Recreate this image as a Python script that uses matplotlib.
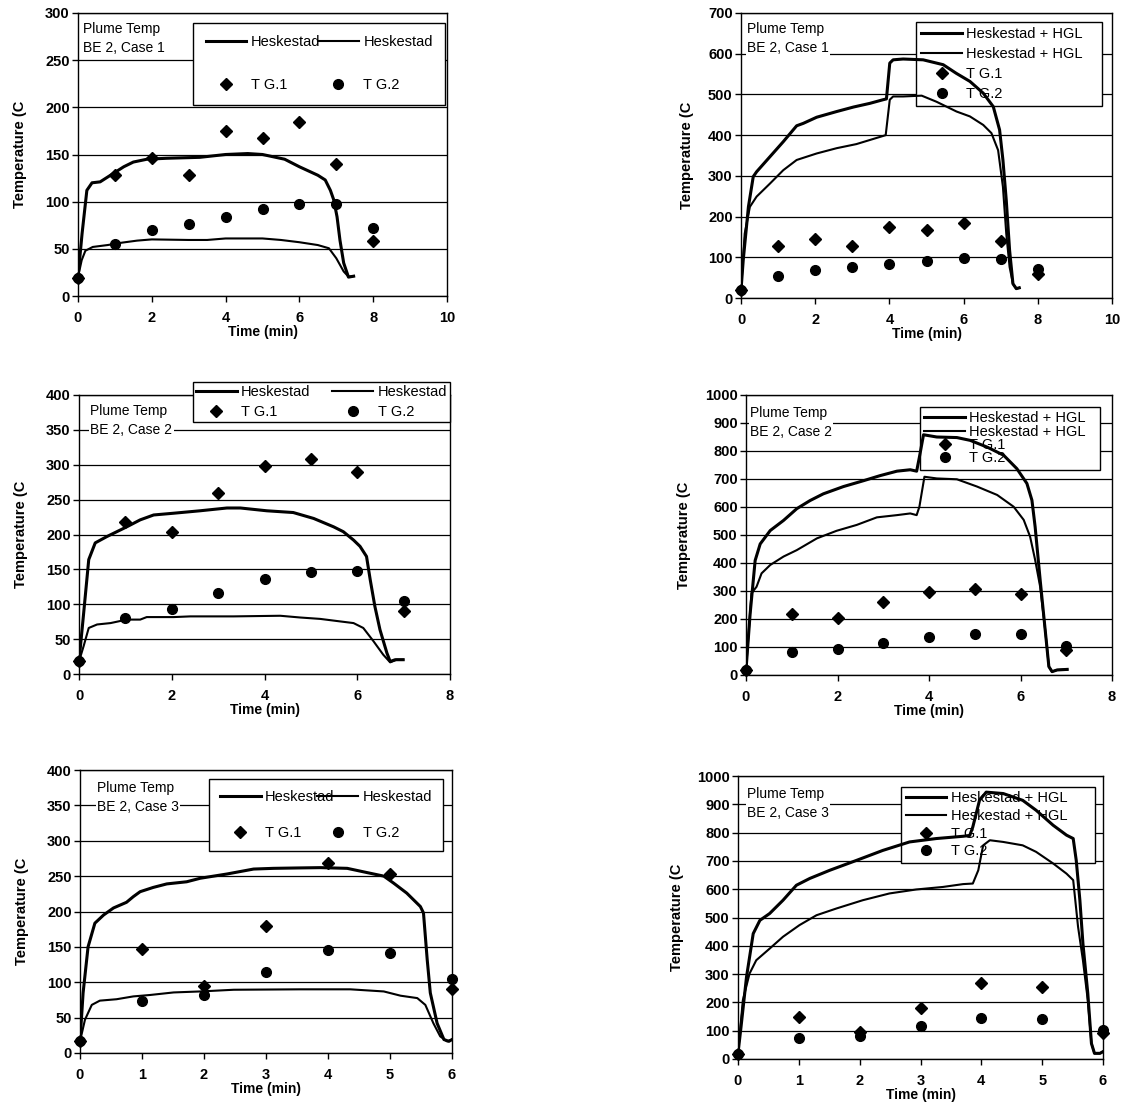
import matplotlib
matplotlib.use("Agg")
import matplotlib.pyplot as plt

plt.rcParams['font.family'] = ['Liberation Sans', 'DejaVu Sans']

# ---------------- data ----------------
tg_minutes_case1 = [0, 1, 2, 3, 4, 5, 6, 7, 8]
tg1_case1 = [19, 128, 146, 128, 175, 168, 184, 140, 58]
tg2_case1 = [19, 55, 70, 76, 84, 92, 98, 97, 72]

tg_minutes_case2 = [0, 1, 2, 3, 4, 5, 6, 7]
tg1_case2 = [18, 218, 204, 260, 298, 308, 289, 91]
tg2_case2 = [18, 81, 93, 116, 136, 146, 148, 105]

tg_minutes_case3 = [0, 1, 2, 3, 4, 5, 6]
tg1_case3 = [17, 147, 95, 180, 268, 253, 91]
tg2_case3 = [17, 74, 82, 115, 146, 141, 104]

# Case 1, Heskestad
c1_hesk_a_t = [0, 0.11, 0.24, 0.38, 0.6, 0.88, 1.24, 1.5, 1.87, 2.4, 3.3, 4.0, 4.6, 5.0, 5.6,
               6.0, 6.5, 6.7, 6.84, 6.93, 7.02, 7.1, 7.2, 7.33, 7.47]
c1_hesk_a = [20, 66, 112, 120, 121, 128, 137, 142, 145, 146, 147, 150, 151, 150, 145,
             137, 128, 123, 112, 102, 84, 59, 35, 20, 21]
c1_hesk_b_t = [0, 0.1, 0.2, 0.4, 0.8, 1.2, 1.6, 2.0, 3.0, 3.5, 4.0, 5.0, 5.5, 6.0, 6.5,
               6.8, 7.0, 7.2, 7.33, 7.47]
c1_hesk_b = [20, 38, 48, 52, 54, 56.6, 58.7, 60, 59.4, 59.4, 61, 61, 59.4, 57, 54,
             50.6, 40, 26, 20.5, 21]

# Case 1, Heskestad + HGL
c1_hgl_a_t = [0, 0.06, 0.2, 0.33, 0.42, 0.78, 1.14, 1.5, 1.68, 2.04, 2.58, 3.03, 3.47, 3.83,
              3.92, 4.01, 4.1, 4.37, 4.91, 5.45, 5.8, 6.17, 6.53, 6.8, 6.97, 7.06, 7.15,
              7.24, 7.33, 7.42, 7.5]
c1_hgl_a = [19, 93, 224, 298, 310, 347, 384, 423, 429, 444, 458, 469, 478, 487,
            489, 577, 585, 587, 585, 573, 552, 532, 503, 470, 413, 339, 240,
            117, 35, 23, 25]
c1_hgl_b_t = [0, 0.1, 0.24, 0.42, 0.78, 1.14, 1.5, 2.04, 2.58, 3.11, 3.47, 3.83, 3.9, 4.01,
              4.1, 4.37, 4.87, 5.27, 5.81, 6.17, 6.53, 6.75, 6.93, 7.06, 7.15, 7.24, 7.33,
              7.42, 7.5]
c1_hgl_b = [19, 158, 224, 249, 281, 314, 339, 355, 368, 378, 388, 398, 400, 487,
            495, 495, 497, 482, 458, 446, 425, 405, 363, 273, 158, 76, 35,
            23, 25]

# Case 2, Heskestad
c2_hesk_a_t = [0, 0.1, 0.21, 0.35, 0.6, 1.03, 1.32, 1.61, 2.04, 2.61, 3.19, 3.48, 4.05, 4.62,
               5.06, 5.49, 5.7, 5.92, 6.06, 6.2, 6.28, 6.38, 6.49, 6.64, 6.71, 6.82, 6.99]
c2_hesk_a = [18, 87, 164, 188, 197, 211, 221, 228, 230.5, 234, 238, 238, 234, 231.5,
             223, 211, 204, 192, 183, 168.5, 135, 97, 63.5, 30, 18, 20.5, 20.5]
c2_hesk_b_t = [0, 0.1, 0.21, 0.39, 0.68, 1.03, 1.32, 1.46, 2.04, 2.4, 3.33, 4.34, 4.77, 5.2,
               5.63, 5.92, 6.13, 6.35, 6.56, 6.71, 6.85, 6.99]
c2_hesk_b = [18, 40, 66, 71, 73, 78, 78, 81.6, 81.6, 82.6, 82.6, 83.5, 81, 79,
             75.4, 73, 66, 47, 27.7, 16.7, 20.5, 20.5]

# Case 2, Heskestad + HGL
c2_hgl_a_t = [0, 0.09, 0.2, 0.31, 0.53, 0.82, 1.11, 1.4, 1.69, 2.13, 2.57, 2.93, 3.3, 3.59,
              3.73, 3.79, 3.88, 4.17, 4.61, 4.9, 5.27, 5.63, 5.92, 6.14, 6.25, 6.32, 6.43,
              6.54, 6.62, 6.69, 6.8, 7.02]
c2_hgl_a = [18, 218, 409, 468, 516, 552, 594, 623, 647, 673, 694, 712, 728, 733,
            728, 778, 858, 850, 848, 838, 814, 785, 737, 684, 624, 529, 339,
            160, 30, 12, 18, 20]
c2_hgl_b_t = [0, 0.12, 0.23, 0.34, 0.53, 0.82, 1.11, 1.55, 1.98, 2.42, 2.86, 3.3, 3.59, 3.73,
              3.79, 3.9, 4.17, 4.61, 5.05, 5.49, 5.85, 6.07, 6.21, 6.32, 6.43, 6.54, 6.62,
              6.69, 6.8, 7.02]
c2_hgl_b = [18, 292, 315, 363, 393, 423, 446, 488, 515, 536, 563, 571, 577, 571,
            601, 708, 702, 699, 673, 643, 601, 554, 494, 411, 315, 160, 30,
            12, 18, 20]

# Case 3, Heskestad
c3_hesk_a_t = [0, 0.05, 0.13, 0.24, 0.38, 0.54, 0.75, 0.86, 0.97, 1.18, 1.4, 1.72, 1.94, 2.37,
               2.8, 3.12, 3.55, 3.88, 4.31, 4.63, 4.9, 5.06, 5.27, 5.49, 5.54, 5.6, 5.65,
               5.76, 5.87, 5.95, 6.0]
c3_hesk_a = [16.5, 85, 150, 183.5, 195, 205, 213, 221, 228, 234, 239, 242, 247, 253,
             260, 261, 261.6, 262, 261, 255, 250, 240, 226, 207, 198, 132, 85,
             42, 19, 16.5, 19]
c3_hesk_b_t = [0, 0.08, 0.19, 0.32, 0.59, 0.86, 1.13, 1.51, 1.94, 2.48, 3.55, 4.36, 4.9, 5.17,
               5.44, 5.57, 5.7, 5.81, 5.92, 6.0]
c3_hesk_b = [16.5, 47, 68, 74, 76, 80, 82, 85.6, 87, 89.4, 90, 90, 87, 81,
             77.6, 68, 42, 23.5, 16.5, 19]

# Case 3, Heskestad + HGL
c3_hgl_a_t = [0, 0.05, 0.14, 0.25, 0.36, 0.52, 0.74, 0.96, 1.18, 1.51, 1.95, 2.38, 2.82, 3.26,
              3.7, 3.81, 3.86, 3.97, 4.08, 4.36, 4.68, 4.9, 5.18, 5.4, 5.51, 5.56, 5.62,
              5.67, 5.75, 5.81, 5.86, 5.95, 6.0]
c3_hgl_a = [20, 114, 290, 443, 490, 514, 561, 614, 638, 667, 702, 737, 767, 779,
            787, 790, 820, 914, 943, 938, 914, 879, 826, 791, 779, 702, 561,
            408, 232, 55, 20, 20, 26]
c3_hgl_b_t = [0, 0.08, 0.19, 0.3, 0.52, 0.74, 1.01, 1.29, 1.62, 2.05, 2.49, 2.93, 3.37, 3.7,
              3.86, 3.95, 4.03, 4.14, 4.36, 4.68, 4.9, 5.18, 5.4, 5.51, 5.59, 5.67, 5.75,
              5.81, 5.86, 5.95, 6.0]
c3_hgl_b = [20, 208, 302, 349, 390, 432, 473, 508, 532, 561, 585, 599, 608, 618,
            620, 667, 755, 773, 767, 755, 732, 691, 655, 632, 467, 349, 208,
            55, 20, 20, 26]

panel_titles = ["Plume Temp\nBE 2, Case 1", "Plume Temp\nBE 2, Case 2", "Plume Temp\nBE 2, Case 3"]
label_hesk = "Heskestad"
label_hgl = "Heskestad + HGL"
label_tg1 = "T G.1"
label_tg2 = "T G.2"
xlabel_text = "Time (min)"
ylabel_text = "Temperature (C"

# ---------------- figure ----------------
fig = plt.figure(figsize=(11.32, 11.07), dpi=100)
W, H = 1132, 1107


def make_axes(x0, x1, y0, y1):
    return fig.add_axes([x0 / W, 1 - y1 / H, (x1 - x0) / W, (y1 - y0) / H])


panels = [
    dict(box=(78, 447, 13, 296), xmax=10, xstep=2, ymax=300, ystep=50,
         a=(c1_hesk_a_t, c1_hesk_a), b=(c1_hesk_b_t, c1_hesk_b), lab=label_hesk,
         tg=(tg_minutes_case1, tg1_case1, tg2_case1), title=panel_titles[0],
         leg=dict(ncol=2, box=(0.312, 0.657, 0.683, 0.308), ls=2.0, bp=0.85),
         tpos=(0.014, 0.968), ylpad=13),
    dict(box=(741, 1112, 13, 298), xmax=10, xstep=2, ymax=700, ystep=100,
         a=(c1_hgl_a_t, c1_hgl_a), b=(c1_hgl_b_t, c1_hgl_b), lab=label_hgl,
         tg=(tg_minutes_case1, tg1_case1, tg2_case1), title=panel_titles[0],
         leg=dict(ncol=1, box=(0.472, 0.66, 0.501, 0.308), ls=0.4, bp=0.35),
         tpos=(0.016, 0.968), ylpad=10),
    dict(box=(79, 450, 395, 674), xmax=8, xstep=2, ymax=400, ystep=50,
         a=(c2_hesk_a_t, c2_hesk_a), b=(c2_hesk_b_t, c2_hesk_b), lab=label_hesk,
         tg=(tg_minutes_case2, tg1_case2, tg2_case2), title=panel_titles[1],
         leg=dict(ncol=2, box=(0.307, 0.892, 0.693, 0.155), ls=0.4, bp=0.2),
         tpos=(0.03, 0.968), ylpad=13),
    dict(box=(746, 1112, 395, 675), xmax=8, xstep=2, ymax=1000, ystep=100,
         a=(c2_hgl_a_t, c2_hgl_a), b=(c2_hgl_b_t, c2_hgl_b), lab=label_hgl,
         tg=(tg_minutes_case2, tg1_case2, tg2_case2), title=panel_titles[1],
         leg=dict(ncol=1, box=(0.475, 0.725, 0.492, 0.232), ls=-0.05, bp=0.3),
         tpos=(0.011, 0.96), ylpad=10),
    dict(box=(80, 452, 770, 1053), xmax=6, xstep=1, ymax=400, ystep=50,
         a=(c3_hesk_a_t, c3_hesk_a), b=(c3_hesk_b_t, c3_hesk_b), lab=label_hesk,
         tg=(tg_minutes_case3, tg1_case3, tg2_case3), title=panel_titles[2],
         leg=dict(ncol=2, box=(0.347, 0.70, 0.629, 0.268), ls=1.5, bp=0.75),
         tpos=(0.046, 0.961), ylpad=13),
    dict(box=(738, 1103, 776, 1059), xmax=6, xstep=1, ymax=1000, ystep=100,
         a=(c3_hgl_a_t, c3_hgl_a), b=(c3_hgl_b_t, c3_hgl_b), lab=label_hgl,
         tg=(tg_minutes_case3, tg1_case3, tg2_case3), title=panel_titles[2],
         leg=dict(ncol=1, box=(0.447, 0.678, 0.532, 0.283), ls=0.25, bp=0.3),
         tpos=(0.025, 0.961), ylpad=9),
]

for p in panels:
    ax = make_axes(*p['box'])
    ax.set_xlim(0, p['xmax'])
    ax.set_ylim(0, p['ymax'])
    ax.set_xticks(range(0, p['xmax'] + 1, p['xstep']))
    ax.set_yticks(range(0, p['ymax'] + 1, p['ystep']))
    ax.yaxis.grid(True, color='black', lw=0.9, zorder=0.5)
    ax.set_axisbelow(True)
    for s in ax.spines.values():
        s.set_linewidth(1.0)
        s.set_color('black')
    ax.tick_params(direction='out', length=4, width=1.0, labelsize=10.5,
                   colors='black')
    ax.tick_params(axis='x', pad=6.5)
    ax.tick_params(axis='y', pad=2)
    for lab in ax.get_xticklabels() + ax.get_yticklabels():
        lab.set_fontweight('bold')
    ax.set_xlabel(xlabel_text, fontsize=10, fontweight='bold', labelpad=0)
    ax.set_ylabel(ylabel_text, fontsize=10.5, fontweight='bold', labelpad=p['ylpad'])

    la, = ax.plot(*p['a'], color='black', lw=2.2, zorder=3, label=p['lab'])
    lb, = ax.plot(*p['b'], color='black', lw=1.5, zorder=3, label=p['lab'])
    t, g1, g2 = p['tg']
    m1, = ax.plot(t, g1, ls='none', marker='D', ms=6.5, color='black', zorder=4,
                  label=label_tg1, clip_on=False)
    m2, = ax.plot(t, g2, ls='none', marker='o', ms=7, color='black', zorder=4,
                  label=label_tg2, clip_on=False)

    lg = p['leg']
    if lg['ncol'] == 2:
        handles = [la, m1, lb, m2]
    else:
        handles = [la, lb, m1, m2]
    leg = ax.legend(handles=handles, labels=[h.get_label() for h in handles],
                    ncol=lg['ncol'], loc='upper left', bbox_to_anchor=lg['box'],
                    mode='expand', fontsize=10.5, frameon=True, fancybox=False,
                    framealpha=1, edgecolor='black', facecolor='white',
                    labelspacing=lg['ls'], borderpad=lg['bp'], handlelength=2.8,
                    handletextpad=0.3, columnspacing=0.8, borderaxespad=0)
    leg.get_frame().set_linewidth(1.0)
    leg.set_zorder(2.5)

    ax.text(p['tpos'][0], p['tpos'][1], p['title'], transform=ax.transAxes,
            ha='left', va='top', fontsize=10, linespacing=1.45, zorder=2.6,
            bbox=dict(boxstyle='square,pad=0.1', fc='white', ec='none'))

fig.savefig("out.png", dpi=100)
